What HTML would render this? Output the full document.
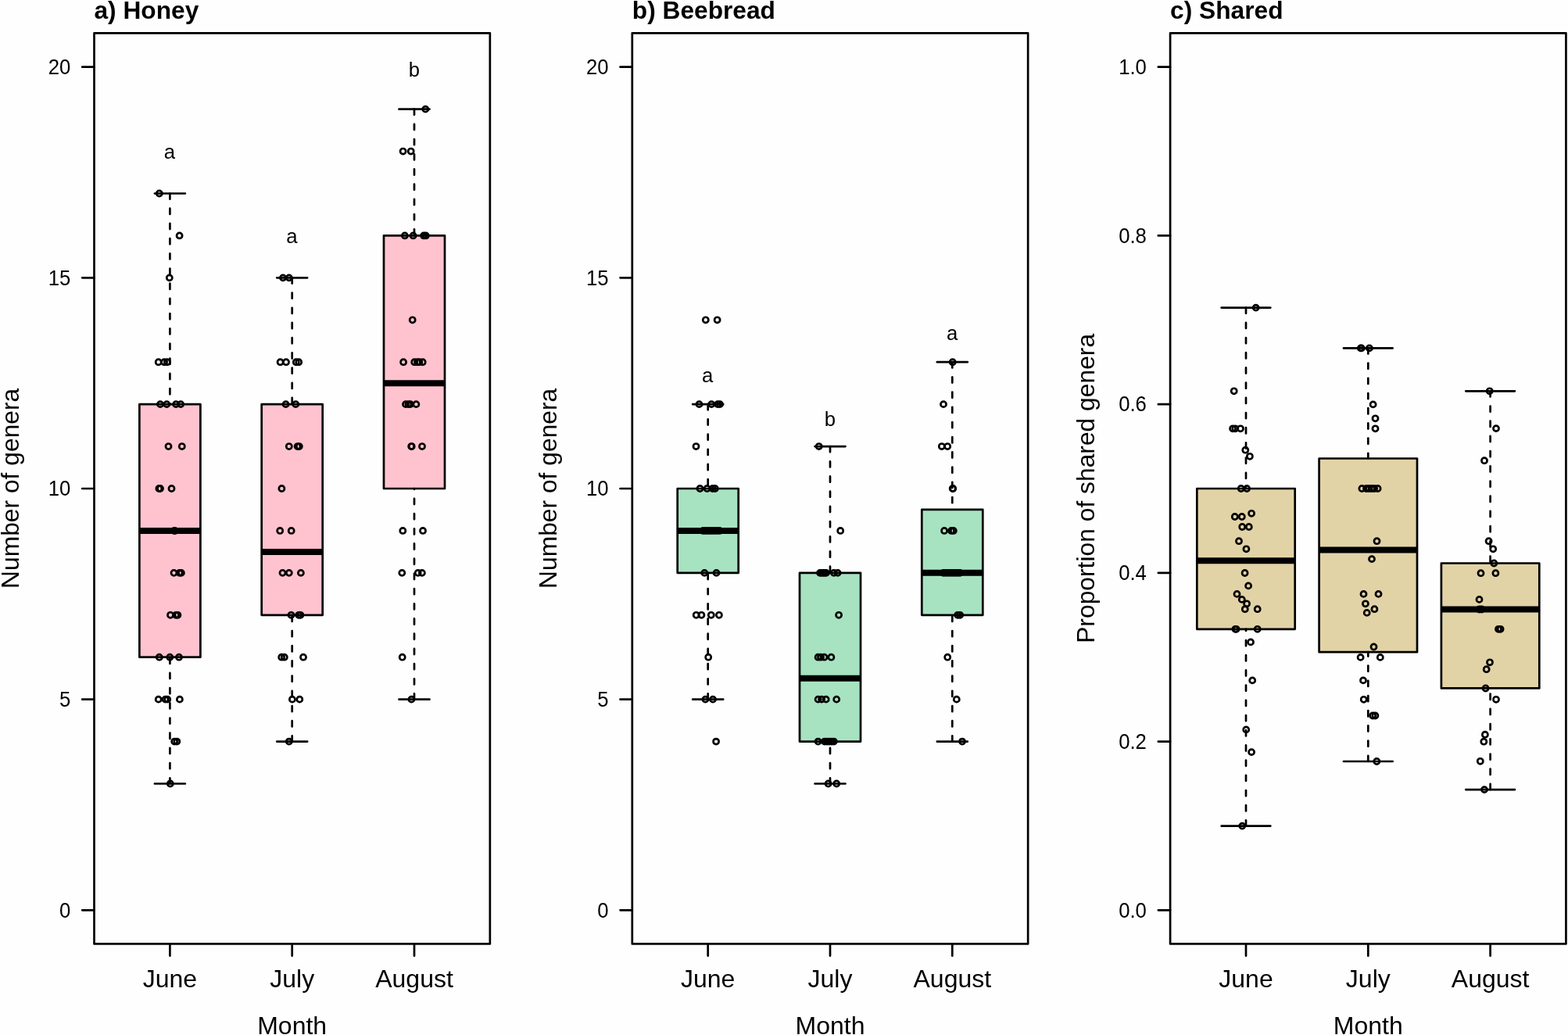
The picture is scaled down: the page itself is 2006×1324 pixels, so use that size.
<!DOCTYPE html>
<html lang="en"><head><meta charset="utf-8"><title>Genera per month: honey, beebread, shared</title>
<style>html,body{margin:0;padding:0;background:#fff}body{width:2006px;height:1324px;overflow:hidden}svg{display:block}text{font-family:"Liberation Sans", Arial, Helvetica, sans-serif;fill:#000}.ln{stroke:#000;stroke-width:2.7;fill:none;stroke-linecap:round;stroke-linejoin:round}.wh{stroke:#000;stroke-width:2.7;fill:none;stroke-linecap:round;stroke-dasharray:7.2 12}.md{stroke:#000;stroke-width:8;fill:none;stroke-linecap:butt}.pt{stroke:#000;stroke-width:2.7;fill:none}.t1{font-size:25.7px}.t2{font-size:32px}.tt{font-size:31.7px;font-weight:bold}</style></head><body>
<svg width="2006" height="1324" viewBox="0 0 2006 1324">
<rect x="0" y="0" width="2006" height="1324" fill="#fefefe"/>
<g transform="translate(0,0)">
<rect x="178.4" y="517.14" width="78" height="323.58" fill="#ffc3cf"/>
<path class="md" d="M178.4 678.93H256.4"/>
<path class="wh" d="M217.4 247.49V517.14"/>
<path class="wh" d="M217.4 1002.51V840.72"/>
<path class="ln" d="M197.9 247.49H236.9M197.9 1002.51H236.9"/>
<rect class="ln" x="178.4" y="517.14" width="78" height="323.58"/>
<rect x="334.7" y="517.14" width="78" height="269.65" fill="#ffc3cf"/>
<path class="md" d="M334.7 705.89H412.7"/>
<path class="wh" d="M373.7 355.35V517.14"/>
<path class="wh" d="M373.7 948.58V786.79"/>
<path class="ln" d="M354.2 355.35H393.2M354.2 948.58H393.2"/>
<rect class="ln" x="334.7" y="517.14" width="78" height="269.65"/>
<rect x="491" y="301.42" width="78" height="323.58" fill="#ffc3cf"/>
<path class="md" d="M491 490.17H569"/>
<path class="wh" d="M530 139.63V301.42"/>
<path class="wh" d="M530 894.65V625"/>
<path class="ln" d="M510.5 139.63H549.5M510.5 894.65H549.5"/>
<rect class="ln" x="491" y="301.42" width="78" height="323.58"/>
<g class="pt"><circle cx="203.8" cy="247.49" r="3.55"/><circle cx="229.6" cy="301.42" r="3.55"/><circle cx="216.8" cy="355.35" r="3.55"/><circle cx="202.7" cy="463.21" r="3.55"/><circle cx="210.1" cy="463.21" r="3.55"/><circle cx="213.9" cy="463.21" r="3.55"/><circle cx="205" cy="517.14" r="3.55"/><circle cx="213.3" cy="517.14" r="3.55"/><circle cx="225.1" cy="517.14" r="3.55"/><circle cx="231.2" cy="517.14" r="3.55"/><circle cx="215.5" cy="571.07" r="3.55"/><circle cx="232.8" cy="571.07" r="3.55"/><circle cx="203.4" cy="625" r="3.55"/><circle cx="205" cy="625" r="3.55"/><circle cx="219.5" cy="625" r="3.55"/><circle cx="222.9" cy="678.93" r="3.55"/><circle cx="223.8" cy="678.93" r="3.55"/><circle cx="222.5" cy="732.86" r="3.55"/><circle cx="229.6" cy="732.86" r="3.55"/><circle cx="231.9" cy="732.86" r="3.55"/><circle cx="218" cy="786.79" r="3.55"/><circle cx="225.1" cy="786.79" r="3.55"/><circle cx="227.4" cy="786.79" r="3.55"/><circle cx="203.8" cy="840.72" r="3.55"/><circle cx="217.3" cy="840.72" r="3.55"/><circle cx="229" cy="840.72" r="3.55"/><circle cx="202.7" cy="894.65" r="3.55"/><circle cx="211.5" cy="894.65" r="3.55"/><circle cx="214.2" cy="894.65" r="3.55"/><circle cx="229.9" cy="894.65" r="3.55"/><circle cx="223.2" cy="948.58" r="3.55"/><circle cx="226.3" cy="948.58" r="3.55"/><circle cx="217.8" cy="1002.51" r="3.55"/><circle cx="362" cy="355.35" r="3.55"/><circle cx="369.8" cy="355.35" r="3.55"/><circle cx="358.6" cy="463.21" r="3.55"/><circle cx="366" cy="463.21" r="3.55"/><circle cx="378.8" cy="463.21" r="3.55"/><circle cx="382.2" cy="463.21" r="3.55"/><circle cx="365.6" cy="517.14" r="3.55"/><circle cx="378.3" cy="517.14" r="3.55"/><circle cx="369.8" cy="571.07" r="3.55"/><circle cx="380.6" cy="571.07" r="3.55"/><circle cx="382.8" cy="571.07" r="3.55"/><circle cx="360.4" cy="625" r="3.55"/><circle cx="358.2" cy="678.93" r="3.55"/><circle cx="372.7" cy="678.93" r="3.55"/><circle cx="361.5" cy="732.86" r="3.55"/><circle cx="369.8" cy="732.86" r="3.55"/><circle cx="384.9" cy="732.86" r="3.55"/><circle cx="372.5" cy="786.79" r="3.55"/><circle cx="382.2" cy="786.79" r="3.55"/><circle cx="384.4" cy="786.79" r="3.55"/><circle cx="360.2" cy="840.72" r="3.55"/><circle cx="363.8" cy="840.72" r="3.55"/><circle cx="388" cy="840.72" r="3.55"/><circle cx="373.9" cy="894.65" r="3.55"/><circle cx="383.3" cy="894.65" r="3.55"/><circle cx="369.8" cy="948.58" r="3.55"/><circle cx="544.3" cy="139.63" r="3.55"/><circle cx="515.6" cy="193.56" r="3.55"/><circle cx="525.7" cy="193.56" r="3.55"/><circle cx="517.9" cy="301.42" r="3.55"/><circle cx="528.6" cy="301.42" r="3.55"/><circle cx="542.1" cy="301.42" r="3.55"/><circle cx="544.8" cy="301.42" r="3.55"/><circle cx="527.7" cy="409.28" r="3.55"/><circle cx="516.1" cy="463.21" r="3.55"/><circle cx="530.2" cy="463.21" r="3.55"/><circle cx="534" cy="463.21" r="3.55"/><circle cx="536.3" cy="463.21" r="3.55"/><circle cx="540.7" cy="463.21" r="3.55"/><circle cx="519" cy="517.14" r="3.55"/><circle cx="522.4" cy="517.14" r="3.55"/><circle cx="525" cy="517.14" r="3.55"/><circle cx="532.4" cy="517.14" r="3.55"/><circle cx="526.2" cy="571.07" r="3.55"/><circle cx="526.7" cy="571.07" r="3.55"/><circle cx="540" cy="571.07" r="3.55"/><circle cx="515.3" cy="678.93" r="3.55"/><circle cx="541" cy="678.93" r="3.55"/><circle cx="514.3" cy="732.86" r="3.55"/><circle cx="534.7" cy="732.86" r="3.55"/><circle cx="539.9" cy="732.86" r="3.55"/><circle cx="514.7" cy="840.72" r="3.55"/><circle cx="526.4" cy="894.65" r="3.55"/></g>
<rect class="ln" x="120.5" y="42.3" width="506.35" height="1165.1" stroke-linejoin="miter"/>
<path class="ln" d="M120.5 1164.3H105.2M120.5 894.65H105.2M120.5 625H105.2M120.5 355.35H105.2M120.5 85.7H105.2M217.4 1207.4V1222.7M373.7 1207.4V1222.7M530 1207.4V1222.7"/>
<text class="t1" transform="translate(90.3,1173.65) scale(1,1.05)" text-anchor="end">0</text>
<text class="t1" transform="translate(90.3,904) scale(1,1.05)" text-anchor="end">5</text>
<text class="t1" transform="translate(90.3,634.35) scale(1,1.05)" text-anchor="end">10</text>
<text class="t1" transform="translate(90.3,364.7) scale(1,1.05)" text-anchor="end">15</text>
<text class="t1" transform="translate(90.3,95.05) scale(1,1.05)" text-anchor="end">20</text>
<text class="t2" x="217.4" y="1262.5" text-anchor="middle">June</text>
<text class="t2" x="373.7" y="1262.5" text-anchor="middle">July</text>
<text class="t2" x="530" y="1262.5" text-anchor="middle">August</text>
<text class="t2" x="373.68" y="1322.7" text-anchor="middle">Month</text>
<text class="t2" style="font-size:31.8px" transform="translate(23.7,624.85) rotate(-90)" text-anchor="middle">Number of genera</text>
<text class="tt" x="120.5" y="24">a) Honey</text>
<text class="t1" x="217" y="203.1" text-anchor="middle">a</text>
<text class="t1" x="373.3" y="311" text-anchor="middle">a</text>
<text class="t1" x="529.8" y="97.6" text-anchor="middle">b</text>
</g>
<g transform="translate(688.3,0)">
<rect x="178.4" y="625" width="78" height="107.86" fill="#a8e3c1"/>
<path class="md" d="M178.4 678.93H256.4"/>
<path class="wh" d="M217.4 517.14V625"/>
<path class="wh" d="M217.4 894.65V732.86"/>
<path class="ln" d="M197.9 517.14H236.9M197.9 894.65H236.9"/>
<rect class="ln" x="178.4" y="625" width="78" height="107.86"/>
<rect x="334.7" y="732.86" width="78" height="215.72" fill="#a8e3c1"/>
<path class="md" d="M334.7 867.68H412.7"/>
<path class="wh" d="M373.7 571.07V732.86"/>
<path class="wh" d="M373.7 1002.51V948.58"/>
<path class="ln" d="M354.2 571.07H393.2M354.2 1002.51H393.2"/>
<rect class="ln" x="334.7" y="732.86" width="78" height="215.72"/>
<rect x="491" y="651.96" width="78" height="134.83" fill="#a8e3c1"/>
<path class="md" d="M491 732.86H569"/>
<path class="wh" d="M530 463.21V651.96"/>
<path class="wh" d="M530 948.58V786.79"/>
<path class="ln" d="M510.5 463.21H549.5M510.5 948.58H549.5"/>
<rect class="ln" x="491" y="651.96" width="78" height="134.83"/>
<g class="pt"><circle cx="214.5" cy="409.28" r="3.55"/><circle cx="229.3" cy="409.28" r="3.55"/><circle cx="206.2" cy="517.14" r="3.55"/><circle cx="221.9" cy="517.14" r="3.55"/><circle cx="229.8" cy="517.14" r="3.55"/><circle cx="232.7" cy="517.14" r="3.55"/><circle cx="202.2" cy="571.07" r="3.55"/><circle cx="207.2" cy="625" r="3.55"/><circle cx="216.3" cy="625" r="3.55"/><circle cx="223.4" cy="625" r="3.55"/><circle cx="226.5" cy="625" r="3.55"/><circle cx="211.2" cy="678.93" r="3.55"/><circle cx="213.7" cy="678.93" r="3.55"/><circle cx="216.7" cy="678.93" r="3.55"/><circle cx="219.7" cy="678.93" r="3.55"/><circle cx="222.7" cy="678.93" r="3.55"/><circle cx="225.7" cy="678.93" r="3.55"/><circle cx="228.7" cy="678.93" r="3.55"/><circle cx="232.2" cy="678.93" r="3.55"/><circle cx="213" cy="732.86" r="3.55"/><circle cx="228.2" cy="732.86" r="3.55"/><circle cx="202.4" cy="786.79" r="3.55"/><circle cx="209.1" cy="786.79" r="3.55"/><circle cx="221.5" cy="786.79" r="3.55"/><circle cx="231.6" cy="786.79" r="3.55"/><circle cx="217.9" cy="840.72" r="3.55"/><circle cx="214.1" cy="894.65" r="3.55"/><circle cx="223.7" cy="894.65" r="3.55"/><circle cx="227.8" cy="948.58" r="3.55"/><circle cx="359.4" cy="571.07" r="3.55"/><circle cx="386.9" cy="678.93" r="3.55"/><circle cx="360.7" cy="732.86" r="3.55"/><circle cx="362.7" cy="732.86" r="3.55"/><circle cx="364.7" cy="732.86" r="3.55"/><circle cx="366.7" cy="732.86" r="3.55"/><circle cx="368.7" cy="732.86" r="3.55"/><circle cx="378.5" cy="732.86" r="3.55"/><circle cx="383.4" cy="732.86" r="3.55"/><circle cx="384.8" cy="786.79" r="3.55"/><circle cx="358.3" cy="840.72" r="3.55"/><circle cx="361.7" cy="840.72" r="3.55"/><circle cx="366.2" cy="840.72" r="3.55"/><circle cx="375.1" cy="840.72" r="3.55"/><circle cx="358.3" cy="894.65" r="3.55"/><circle cx="362.8" cy="894.65" r="3.55"/><circle cx="368.4" cy="894.65" r="3.55"/><circle cx="381.9" cy="894.65" r="3.55"/><circle cx="358.3" cy="948.58" r="3.55"/><circle cx="366.7" cy="948.58" r="3.55"/><circle cx="369.7" cy="948.58" r="3.55"/><circle cx="372.7" cy="948.58" r="3.55"/><circle cx="375.7" cy="948.58" r="3.55"/><circle cx="378.5" cy="948.58" r="3.55"/><circle cx="371.3" cy="1002.51" r="3.55"/><circle cx="381.9" cy="1002.51" r="3.55"/><circle cx="530.4" cy="463.21" r="3.55"/><circle cx="518.7" cy="517.14" r="3.55"/><circle cx="516.5" cy="571.07" r="3.55"/><circle cx="523.9" cy="571.07" r="3.55"/><circle cx="530.4" cy="625" r="3.55"/><circle cx="530.9" cy="625" r="3.55"/><circle cx="519.8" cy="678.93" r="3.55"/><circle cx="528.8" cy="678.93" r="3.55"/><circle cx="531.5" cy="678.93" r="3.55"/><circle cx="518.7" cy="732.86" r="3.55"/><circle cx="521.7" cy="732.86" r="3.55"/><circle cx="524.7" cy="732.86" r="3.55"/><circle cx="527.7" cy="732.86" r="3.55"/><circle cx="530.7" cy="732.86" r="3.55"/><circle cx="533.7" cy="732.86" r="3.55"/><circle cx="536.7" cy="732.86" r="3.55"/><circle cx="539.7" cy="732.86" r="3.55"/><circle cx="536.9" cy="786.79" r="3.55"/><circle cx="539.9" cy="786.79" r="3.55"/><circle cx="523.9" cy="840.72" r="3.55"/><circle cx="535.5" cy="894.65" r="3.55"/><circle cx="542.7" cy="948.58" r="3.55"/></g>
<rect class="ln" x="120.5" y="42.3" width="506.35" height="1165.1" stroke-linejoin="miter"/>
<path class="ln" d="M120.5 1164.3H105.2M120.5 894.65H105.2M120.5 625H105.2M120.5 355.35H105.2M120.5 85.7H105.2M217.4 1207.4V1222.7M373.7 1207.4V1222.7M530 1207.4V1222.7"/>
<text class="t1" transform="translate(90.3,1173.65) scale(1,1.05)" text-anchor="end">0</text>
<text class="t1" transform="translate(90.3,904) scale(1,1.05)" text-anchor="end">5</text>
<text class="t1" transform="translate(90.3,634.35) scale(1,1.05)" text-anchor="end">10</text>
<text class="t1" transform="translate(90.3,364.7) scale(1,1.05)" text-anchor="end">15</text>
<text class="t1" transform="translate(90.3,95.05) scale(1,1.05)" text-anchor="end">20</text>
<text class="t2" x="217.4" y="1262.5" text-anchor="middle">June</text>
<text class="t2" x="373.7" y="1262.5" text-anchor="middle">July</text>
<text class="t2" x="530" y="1262.5" text-anchor="middle">August</text>
<text class="t2" x="373.68" y="1322.7" text-anchor="middle">Month</text>
<text class="t2" style="font-size:31.8px" transform="translate(23.7,624.85) rotate(-90)" text-anchor="middle">Number of genera</text>
<text class="tt" x="120.5" y="24">b) Beebread</text>
<text class="t1" x="216.8" y="489.2" text-anchor="middle">a</text>
<text class="t1" x="373.6" y="545.3" text-anchor="middle">b</text>
<text class="t1" x="529.9" y="435" text-anchor="middle">a</text>
</g>
<g transform="translate(1376.6,0)">
<rect x="154.7" y="625" width="125.4" height="179.8" fill="#e2d3a7"/>
<path class="md" d="M154.7 717.3H280.1"/>
<path class="wh" d="M217.4 393.6V625"/>
<path class="wh" d="M217.4 1056.6V804.8"/>
<path class="ln" d="M186.05 393.6H248.75M186.05 1056.6H248.75"/>
<rect class="ln" x="154.7" y="625" width="125.4" height="179.8"/>
<rect x="311" y="586.5" width="125.4" height="247.7" fill="#e2d3a7"/>
<path class="md" d="M311 703.6H436.4"/>
<path class="wh" d="M373.7 445.4V586.5"/>
<path class="wh" d="M373.7 974V834.2"/>
<path class="ln" d="M342.35 445.4H405.05M342.35 974H405.05"/>
<rect class="ln" x="311" y="586.5" width="125.4" height="247.7"/>
<rect x="467.3" y="720.5" width="125.4" height="159.9" fill="#e2d3a7"/>
<path class="md" d="M467.3 779.5H592.7"/>
<path class="wh" d="M530 500.3V720.5"/>
<path class="wh" d="M530 1010.1V880.4"/>
<path class="ln" d="M498.65 500.3H561.35M498.65 1010.1H561.35"/>
<rect class="ln" x="467.3" y="720.5" width="125.4" height="159.9"/>
<g class="pt"><circle cx="230.1" cy="393.6" r="3.55"/><circle cx="202.1" cy="500.3" r="3.55"/><circle cx="200.5" cy="548.3" r="3.55"/><circle cx="203.7" cy="548.3" r="3.55"/><circle cx="210.4" cy="548.3" r="3.55"/><circle cx="216.7" cy="575.7" r="3.55"/><circle cx="222.3" cy="583.8" r="3.55"/><circle cx="211.1" cy="625" r="3.55"/><circle cx="218.5" cy="625" r="3.55"/><circle cx="224.5" cy="656.8" r="3.55"/><circle cx="203.2" cy="661" r="3.55"/><circle cx="212.2" cy="661" r="3.55"/><circle cx="212.6" cy="674" r="3.55"/><circle cx="221.2" cy="674" r="3.55"/><circle cx="208.4" cy="692.2" r="3.55"/><circle cx="217.8" cy="702.3" r="3.55"/><circle cx="216" cy="733" r="3.55"/><circle cx="220.5" cy="749.4" r="3.55"/><circle cx="205.9" cy="759.9" r="3.55"/><circle cx="212.2" cy="766.9" r="3.55"/><circle cx="218.5" cy="772.3" r="3.55"/><circle cx="216.2" cy="779.2" r="3.55"/><circle cx="232.1" cy="779.2" r="3.55"/><circle cx="203.8" cy="804.8" r="3.55"/><circle cx="205" cy="804.8" r="3.55"/><circle cx="232.1" cy="804.8" r="3.55"/><circle cx="223.4" cy="821.4" r="3.55"/><circle cx="225.6" cy="870.4" r="3.55"/><circle cx="217.6" cy="933.4" r="3.55"/><circle cx="224.5" cy="962.1" r="3.55"/><circle cx="212.6" cy="1056.6" r="3.55"/><circle cx="364.2" cy="445.4" r="3.55"/><circle cx="365.2" cy="445.4" r="3.55"/><circle cx="375.3" cy="445.4" r="3.55"/><circle cx="380" cy="517.4" r="3.55"/><circle cx="382.9" cy="535.3" r="3.55"/><circle cx="382.9" cy="548.3" r="3.55"/><circle cx="365.8" cy="625" r="3.55"/><circle cx="371.4" cy="625" r="3.55"/><circle cx="374.8" cy="625" r="3.55"/><circle cx="378.2" cy="625" r="3.55"/><circle cx="381.5" cy="625" r="3.55"/><circle cx="386" cy="625" r="3.55"/><circle cx="384.9" cy="692.2" r="3.55"/><circle cx="378.4" cy="715.1" r="3.55"/><circle cx="367.9" cy="759.9" r="3.55"/><circle cx="386.9" cy="759.9" r="3.55"/><circle cx="370.3" cy="772.3" r="3.55"/><circle cx="381.8" cy="779.2" r="3.55"/><circle cx="372.1" cy="783.9" r="3.55"/><circle cx="380.9" cy="827.5" r="3.55"/><circle cx="364" cy="840.9" r="3.55"/><circle cx="389.2" cy="840.9" r="3.55"/><circle cx="367.4" cy="870.4" r="3.55"/><circle cx="368.1" cy="894.8" r="3.55"/><circle cx="379.6" cy="915.5" r="3.55"/><circle cx="382.8" cy="915.5" r="3.55"/><circle cx="384.7" cy="974" r="3.55"/><circle cx="529.1" cy="500.3" r="3.55"/><circle cx="537.4" cy="548.1" r="3.55"/><circle cx="522.4" cy="589.2" r="3.55"/><circle cx="528" cy="692.2" r="3.55"/><circle cx="533.6" cy="702.3" r="3.55"/><circle cx="534.7" cy="720.5" r="3.55"/><circle cx="517.9" cy="733.2" r="3.55"/><circle cx="536.8" cy="733.2" r="3.55"/><circle cx="515.9" cy="766.9" r="3.55"/><circle cx="516" cy="779.5" r="3.55"/><circle cx="518.9" cy="779.5" r="3.55"/><circle cx="540.4" cy="804.8" r="3.55"/><circle cx="543" cy="804.8" r="3.55"/><circle cx="529.4" cy="847.3" r="3.55"/><circle cx="525.1" cy="856.2" r="3.55"/><circle cx="524" cy="880.5" r="3.55"/><circle cx="537.4" cy="894.8" r="3.55"/><circle cx="523.3" cy="939.7" r="3.55"/><circle cx="521.7" cy="948.7" r="3.55"/><circle cx="517.2" cy="973.8" r="3.55"/><circle cx="522.4" cy="1010.1" r="3.55"/></g>
<rect class="ln" x="120.5" y="42.3" width="506.35" height="1165.1" stroke-linejoin="miter"/>
<path class="ln" d="M120.5 1164.3H105.2M120.5 948.58H105.2M120.5 732.86H105.2M120.5 517.14H105.2M120.5 301.42H105.2M120.5 85.7H105.2M217.4 1207.4V1222.7M373.7 1207.4V1222.7M530 1207.4V1222.7"/>
<text class="t1" transform="translate(90.3,1173.65) scale(1,1.05)" text-anchor="end">0.0</text>
<text class="t1" transform="translate(90.3,957.93) scale(1,1.05)" text-anchor="end">0.2</text>
<text class="t1" transform="translate(90.3,742.21) scale(1,1.05)" text-anchor="end">0.4</text>
<text class="t1" transform="translate(90.3,526.49) scale(1,1.05)" text-anchor="end">0.6</text>
<text class="t1" transform="translate(90.3,310.77) scale(1,1.05)" text-anchor="end">0.8</text>
<text class="t1" transform="translate(90.3,95.05) scale(1,1.05)" text-anchor="end">1.0</text>
<text class="t2" x="217.4" y="1262.5" text-anchor="middle">June</text>
<text class="t2" x="373.7" y="1262.5" text-anchor="middle">July</text>
<text class="t2" x="530" y="1262.5" text-anchor="middle">August</text>
<text class="t2" x="373.68" y="1322.7" text-anchor="middle">Month</text>
<text class="t2" style="font-size:31.8px" transform="translate(23.7,624.85) rotate(-90)" text-anchor="middle">Proportion of shared genera</text>
<text class="tt" x="120.5" y="24">c) Shared</text>
</g>
</svg></body></html>
